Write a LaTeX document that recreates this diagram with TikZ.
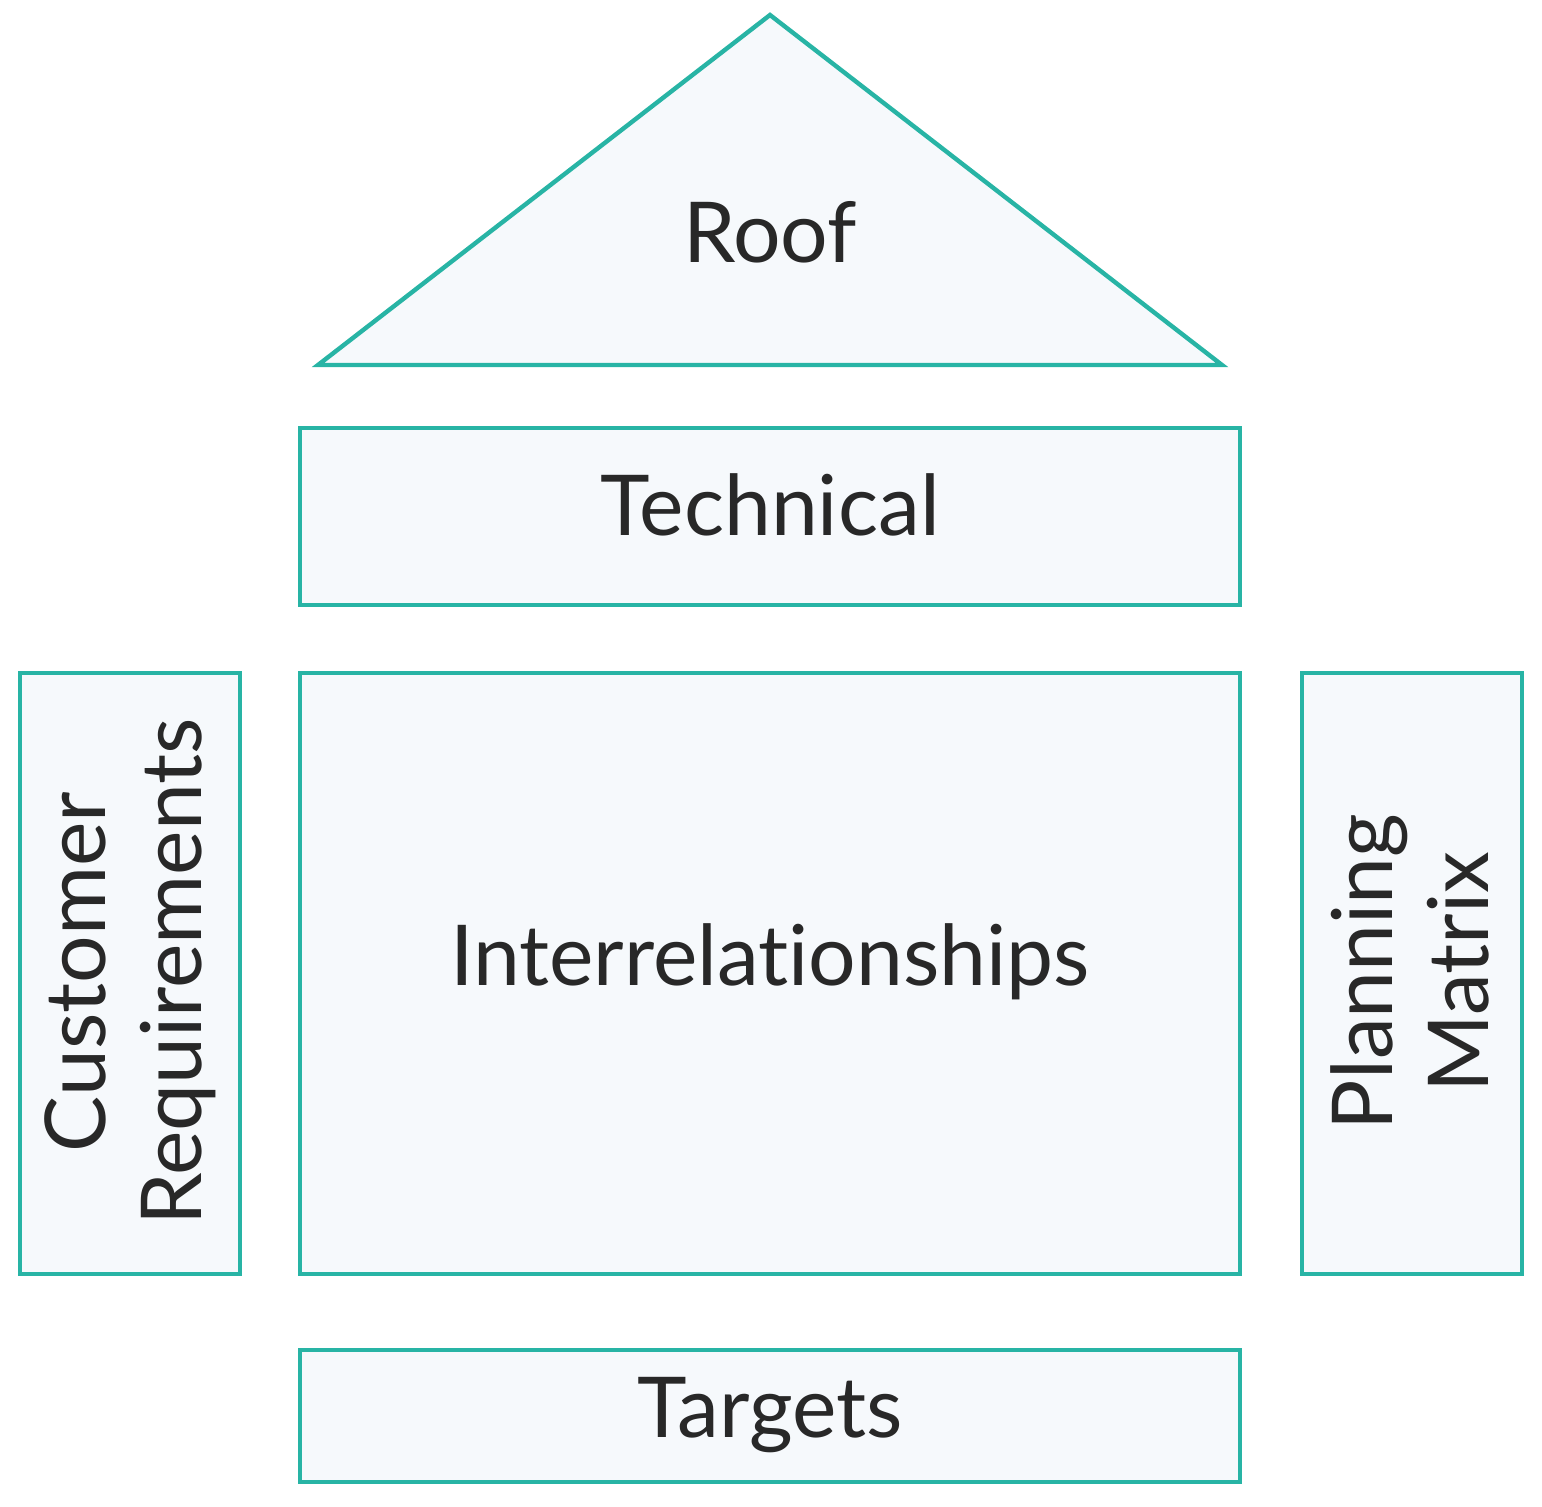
\documentclass[tikz,border=0pt]{standalone}
\usepackage{fontspec}
\setmainfont[Ligatures=NoCommon,Contextuals=NoAlternate]{Lato}
\definecolor{teal1}{RGB}{40,180,165}
\definecolor{fillc}{RGB}{246,249,252}
\definecolor{txt}{RGB}{40,40,40}
\begin{document}
\begin{tikzpicture}[x=0.5pt,y=-0.5pt,
  box/.style={draw=teal1,fill=fillc,line width=2.2pt},
  lab/.style={text=txt,font=\fontsize{42}{48}\selectfont,align=center}]
\useasboundingbox (0,0) rectangle (1542,1507);
\draw[box,line join=miter] (318,365) -- (770,15) -- (1222,365) -- cycle;
\node[lab] (roof) at (770,232) {Roof};
\draw[box] (300,428) rectangle (1240,605);
\node[lab] (tech) at (770,505) {Technical};
\draw[box] (300,673) rectangle (1240,1274);
\node[lab] (inter) at (770,962) {Interrelationships};
\draw[box] (20,673) rectangle (240,1274);
\node[lab,rotate=90] (cust) at (130,972) {Customer\\Requirements};
\draw[box] (1302,673) rectangle (1522,1274);
\node[lab,rotate=90] (plan) at (1410,972) {Planning\\Matrix};
\draw[box] (300,1350) rectangle (1240,1482);
\node[lab] (targ) at (770,1415) {Targets};
\end{tikzpicture}
\end{document}
